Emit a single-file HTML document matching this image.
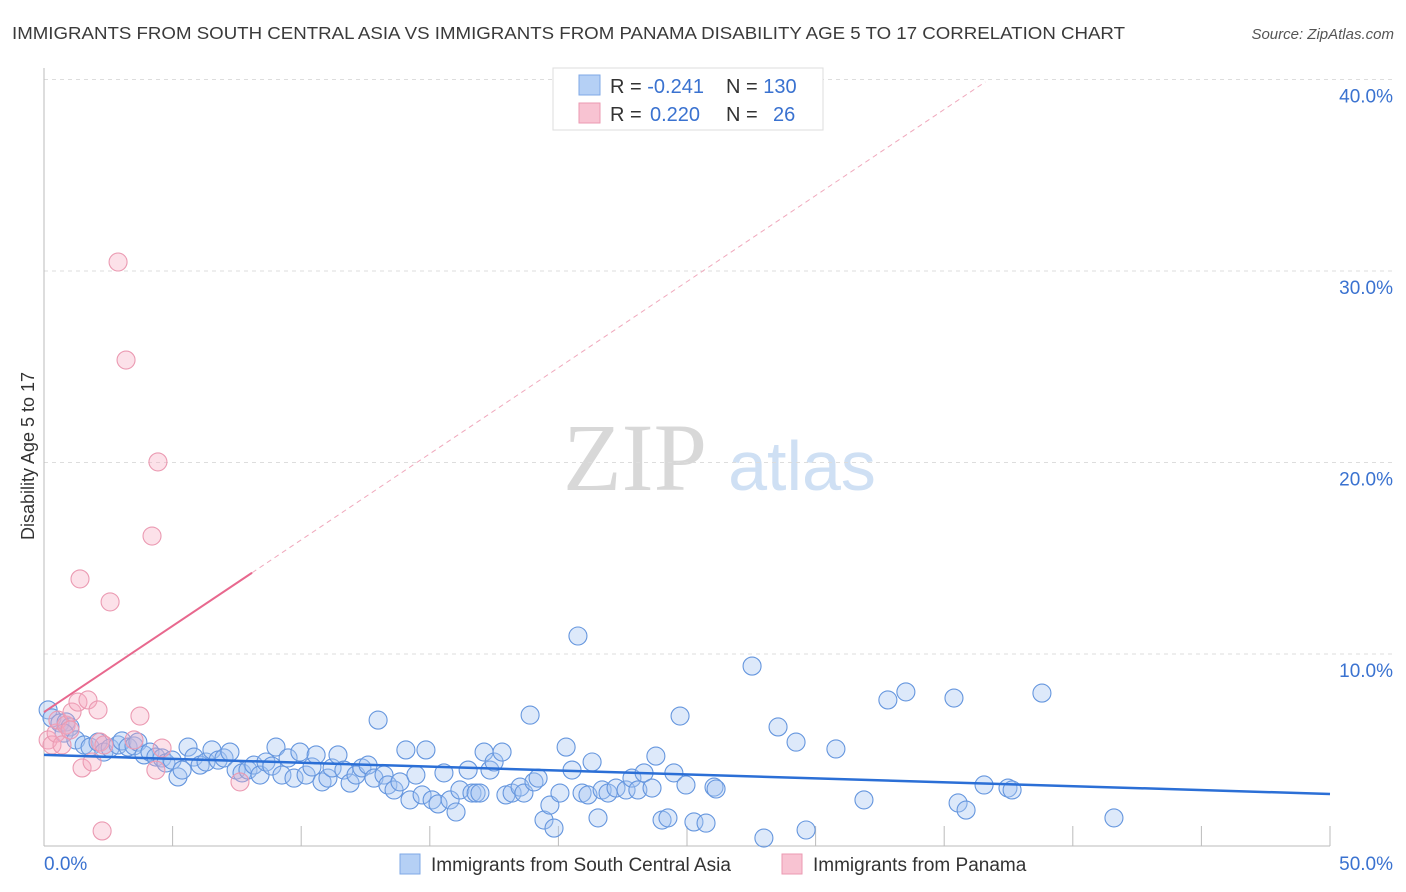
<!DOCTYPE html>
<html><head><meta charset="utf-8"><style>
body{margin:0;background:#fff;font-family:"Liberation Sans",sans-serif;}
#wrap{position:relative;width:1406px;height:892px;overflow:hidden;}
</style></head><body>
<div id="wrap">
<svg id="chart" width="1406" height="892" xmlns="http://www.w3.org/2000/svg">
<text x="12" y="39" font-size="17.5" fill="#3a3a3a" textLength="1113" lengthAdjust="spacingAndGlyphs">IMMIGRANTS FROM SOUTH CENTRAL ASIA VS IMMIGRANTS FROM PANAMA DISABILITY AGE 5 TO 17 CORRELATION CHART</text>
<text x="1394" y="39" font-size="15" fill="#555" font-style="italic" text-anchor="end">Source: ZipAtlas.com</text>
<text x="635" y="490" font-size="96" fill="#d8d8d8" font-family="Liberation Serif,serif" text-anchor="middle">ZIP</text>
<text x="802" y="490" font-size="70" fill="#cfe0f4" text-anchor="middle">atlas</text>
<text transform="translate(34,456) rotate(-90)" font-size="18" fill="#333" text-anchor="middle">Disability Age 5 to 17</text>
<g id="grid"></g><g id="marks"></g><g id="trends"></g>
<g>
<rect x="553" y="68" width="270" height="62" fill="#fff" stroke="#ddd"/>
<rect x="579" y="75" width="21" height="20" fill="#b5d0f5" stroke="#7fa8e6"/>
<rect x="579" y="103" width="21" height="20" fill="#f8c3d2" stroke="#eb9ab2"/>
<text x="610" y="93" font-size="20" fill="#333">R = <tspan fill="#3a72d0">-0.241</tspan></text>
<text x="726" y="93" font-size="20" fill="#333">N = <tspan fill="#3a72d0">130</tspan></text>
<text x="610" y="121" font-size="20" fill="#333">R =  <tspan fill="#3a72d0" x="650">0.220</tspan></text>
<text x="726" y="121" font-size="20" fill="#333">N = <tspan fill="#3a72d0" x="773">26</tspan></text>
</g>
<g>
<rect x="400" y="854" width="20" height="20" fill="#b5d0f5" stroke="#7fa8e6"/>
<text x="431" y="871" font-size="19" fill="#333">Immigrants from South Central Asia</text>
<rect x="782" y="854" width="20" height="20" fill="#f8c3d2" stroke="#eb9ab2"/>
<text x="813" y="871" font-size="19" fill="#333">Immigrants from Panama</text>
</g>
</svg>
</div>
<script>
const blueX=[.16,.31,.62,.86,1.01,.78,1.24,1.56,1.79,2.10,2.33,2.57,2.88,3.03,3.27,3.50,3.65,3.89,4.12,4.35,4.59,4.74,4.98,5.21,5.37,5.60,5.83,6.07,6.30,6.53,6.77,7.00,7.23,7.47,7.70,7.93,8.16,8.40,8.63,8.86,9.02,9.25,9.49,9.72,9.95,10.19,10.42,10.58,10.81,11.04,11.20,11.43,11.66,11.90,12.13,12.36,12.60,12.83,12.99,13.22,13.37,13.61,13.84,14.07,14.23,14.46,14.70,14.85,15.09,15.32,15.55,15.79,16.02,16.17,16.49,16.64,16.80,16.95,17.11,17.34,17.50,17.81,17.96,18.20,18.51,18.66,18.90,19.05,19.21,19.44,19.67,19.83,20.06,20.30,20.53,20.76,20.92,21.15,21.31,21.54,21.70,21.93,22.24,22.63,22.86,23.09,23.33,23.64,23.79,24.03,24.26,24.49,24.73,24.96,25.27,25.74,26.05,26.13,27.53,27.99,28.54,29.24,29.63,30.79,31.88,32.81,33.51,35.38,35.54,35.85,36.55,37.48,37.64,38.80,41.60];
const blueY=[7.08,6.66,6.40,6.45,6.19,5.87,5.51,5.25,5.14,5.40,4.88,5.09,5.25,5.46,5.14,5.20,5.40,4.73,4.88,4.62,4.57,4.31,4.46,3.58,3.94,5.14,4.62,4.20,4.36,4.99,4.46,4.57,4.88,3.94,3.79,3.94,4.20,3.68,4.36,4.15,5.14,3.68,4.57,3.52,4.88,3.68,4.10,4.73,3.32,3.52,4.05,4.73,3.94,3.26,3.68,4.05,4.20,3.52,6.55,3.68,3.16,2.90,3.32,4.99,2.38,3.68,2.64,4.99,2.38,2.17,3.79,2.38,1.75,2.90,3.94,2.74,2.74,2.74,4.88,3.94,4.36,4.88,2.64,2.74,3.05,2.74,6.81,3.32,3.52,1.33,2.11,0.91,2.74,5.14,3.94,10.94,2.74,2.64,4.36,1.44,2.90,2.74,3.00,2.90,3.52,2.90,3.79,3.00,4.67,1.33,1.44,3.79,6.76,3.16,1.23,1.17,3.05,2.95,9.37,0.39,6.19,5.40,0.81,5.04,2.38,7.60,8.02,7.70,2.22,1.85,3.16,3.00,2.90,7.96,1.44];
const pinkX=[.16,.31,.47,.54,.70,.86,1.01,1.09,1.32,1.48,1.71,1.87,2.10,2.18,2.33,2.57,2.88,3.19,3.50,3.73,4.20,4.35,4.43,4.59,7.62,2.26,1.40];
const pinkY=[5.51,5.25,5.87,6.55,5.25,6.29,6.03,6.97,7.49,4.05,7.60,4.36,7.08,5.40,5.25,12.72,30.47,25.35,5.51,6.76,16.16,3.94,20.03,5.09,3.32,0.76,13.92];
const blueTrend=[4.73,2.69];
const pinkTrend=[6.97,0.899];
const pinkSolidEnd=8.09, pinkDashEnd=36.6;
const yTicks=[10,20,30,40];
const xTickVals=[0,5,10,15,20,25,30,35,40,45,50];
const NS="http://www.w3.org/2000/svg";
const X=v=>44+v*25.72, Y=v=>845.5-v*19.15;
function mk(tag,attrs,parent){const e=document.createElementNS(NS,tag);for(const k in attrs)e.setAttribute(k,attrs[k]);parent.appendChild(e);return e;}
const grid=document.getElementById('grid'),marks=document.getElementById('marks'),trends=document.getElementById('trends');
yTicks.forEach(t=>{
 const l=mk('line',{x1:44,x2:1394,y1:Y(t),y2:Y(t),stroke:'#ddd','stroke-dasharray':'4,4'},grid);
 
 
 const tx=mk('text',{x:1393,y:Y(t)+23,'font-size':19,fill:'#3a72d0','text-anchor':'end'},grid);
 tx.textContent=t.toFixed(1)+'%';
 
 
});
const ax=mk('line',{x1:44,x2:44,y1:68,y2:846,stroke:'#bbb'},grid);


const bx=mk('line',{x1:44,x2:1330,y1:846,y2:846,stroke:'#bbb'},grid);


xTickVals.forEach(t=>{
 const l=mk('line',{x1:X(t),x2:X(t),y1:826,y2:846,stroke:'#bbb'},grid);
 
 
});
[[0,'start',44],[50,'end',1393]].forEach(([v,a,x])=>{
 const tx=mk('text',{x:x,y:870,'font-size':19,fill:'#3a72d0','text-anchor':a},grid);
 tx.textContent=v.toFixed(1)+'%';
 
 
});
blueX.forEach((v,i)=>{
 const c=mk('circle',{cx:X(v),cy:Y(blueY[i]),r:9,fill:'rgba(165,198,242,0.38)',stroke:'#6596de','stroke-width':1.1},marks);
 
 
});
pinkX.forEach((v,i)=>{
 const c=mk('circle',{cx:X(v),cy:Y(pinkY[i]),r:9,fill:'rgba(245,170,192,0.35)',stroke:'#eb9ab2','stroke-width':1.1},marks);
 
 
});
const bt=mk('line',{x1:X(0),y1:Y(blueTrend[0]),x2:X(50),y2:Y(blueTrend[1]),stroke:'#2b6fd6','stroke-width':2.5},trends);


const pt=mk('line',{x1:X(0),y1:Y(pinkTrend[0]),x2:X(pinkSolidEnd),y2:Y(pinkTrend[0]+pinkTrend[1]*pinkSolidEnd),stroke:'#e8688e','stroke-width':2},trends);


const pd=mk('line',{x1:X(pinkSolidEnd),y1:Y(pinkTrend[0]+pinkTrend[1]*pinkSolidEnd),x2:X(pinkDashEnd),y2:Y(pinkTrend[0]+pinkTrend[1]*pinkDashEnd),stroke:'#f0a8bc','stroke-width':1,'stroke-dasharray':'5,4'},trends);


</script>
</body></html>
